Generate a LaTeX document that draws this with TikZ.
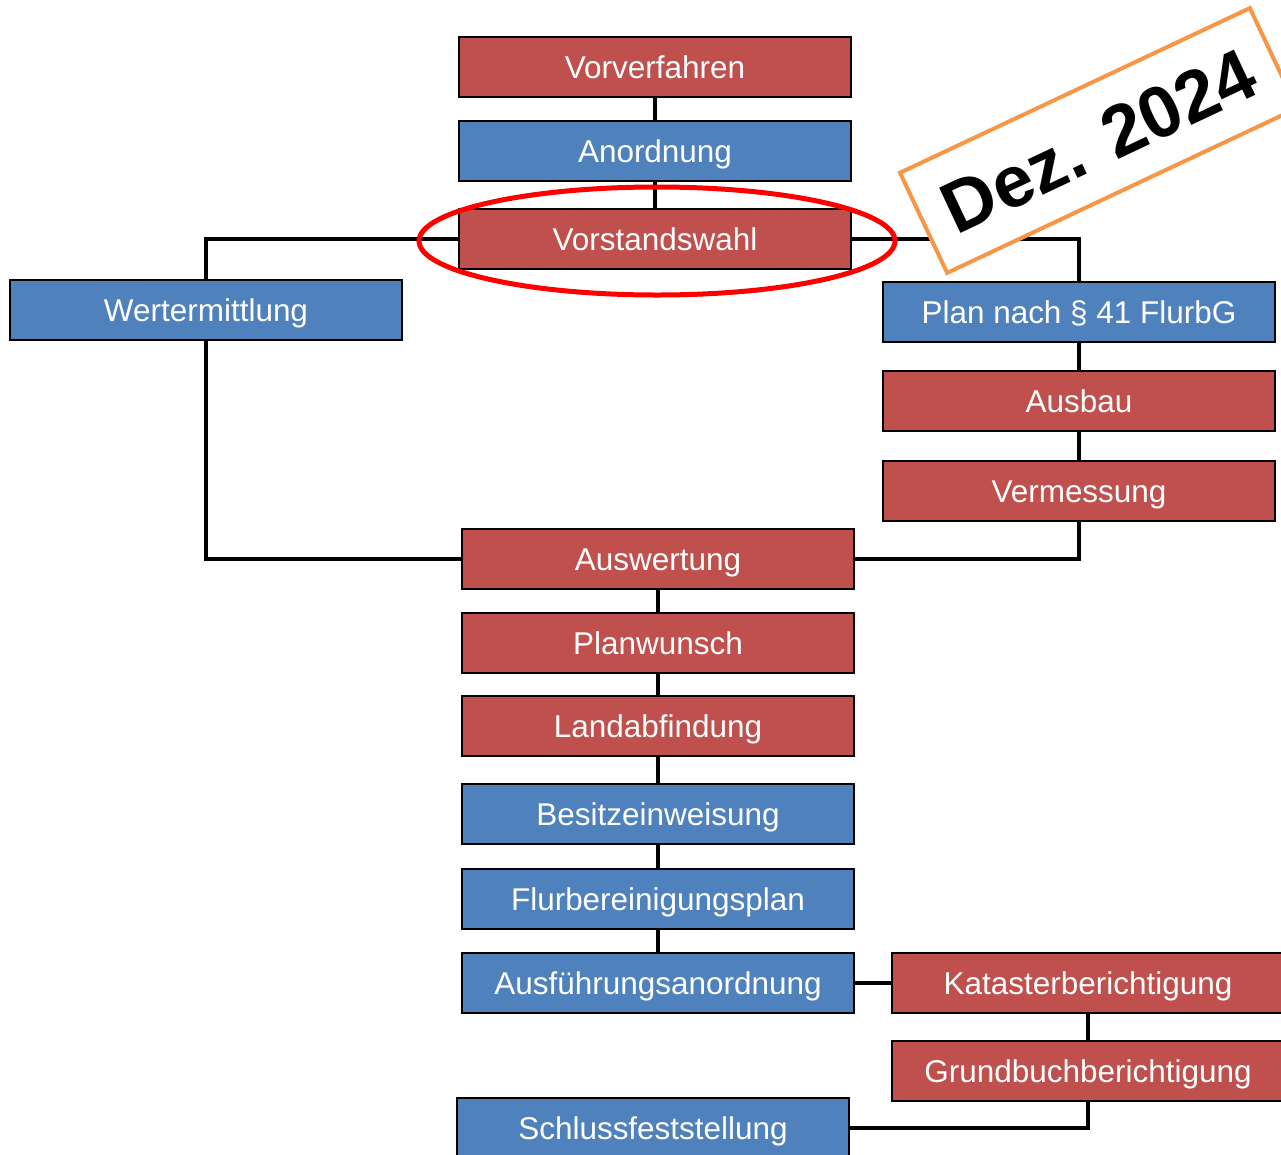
\documentclass[tikz,border=0pt]{standalone}
\usepackage{fontspec}
\setmainfont{Liberation Sans}
\definecolor{boxred}{HTML}{C0504D}
\definecolor{boxblue}{HTML}{4F81BD}
\definecolor{stamporange}{HTML}{F79646}
\begin{document}
\begin{tikzpicture}[x=0.75pt, y=-0.75pt, line join=miter,
	box/.style={draw=black, line width=1.5pt, minimum width=294pt, minimum height=45pt,
		inner sep=0pt, text=white, text height=16.9pt, text depth=0pt,
		font=\fontsize{23.6}{28}\selectfont},
	redbox/.style={box, fill=boxred},
	bluebox/.style={box, fill=boxblue},
	link/.style={line width=3.5pt}]
	\clip (0,0) rectangle (1281,1154);
	% upper part
	\node[redbox] (vor) at (655,67) {Vorverfahren};
	\node[bluebox] (anord) at (655,151) {Anordnung};
	\node[redbox] (wahl) at (655,239) {Vorstandswahl};
	\node[bluebox] (wert) at (206,310) {Wertermittlung};
	\node[bluebox] (plan) at (1079,312) {Plan nach § 41 FlurbG};
	\node[redbox] (ausbau) at (1079,401) {Ausbau};
	\node[redbox] (verm) at (1079,491) {Vermessung};
	% lower part
	\node[redbox] (ausw) at (658,559) {Auswertung};
	\node[redbox] (planw) at (658,643) {Planwunsch};
	\node[redbox] (landab) at (658,726) {Landabfindung};
	\node[bluebox] (besitz) at (658,814) {Besitzeinweisung};
	\node[bluebox] (fplan) at (658,899) {Flurbereinigungsplan};
	\node[bluebox] (ausf) at (658,983) {Ausführungsanordnung};
	\node[redbox] (kat) at (1088,983) {Katasterberichtigung};
	\node[redbox] (grund) at (1088,1071) {Grundbuchberichtigung};
	\node[bluebox] (schluss) at (653,1128) {Schlussfeststellung};
	\foreach \p/\q in {vor/anord, anord/wahl, plan/ausbau, ausbau/verm, ausw/planw,
		planw/landab, landab/besitz, besitz/fplan, fplan/ausf, ausf/kat, kat/grund}
		\draw[link] (\p)--(\q);
	\draw[link] (wahl.west) -| (wert.north) (wahl.east) -| (plan.north)
		(wert.south) |- (ausw.west) (verm.south) |- (ausw.east)
		(grund.south) |- (schluss.east);
	% stamp and mark
	\node[rotate=25.2, draw=stamporange, line width=3pt, fill=white, minimum width=290pt,
		minimum height=83pt, inner sep=0pt, text height=39pt, text depth=0pt,
		font=\bfseries\fontsize{54.5}{60}\selectfont] (stamp) at (1098.5,140.5) {Dez. 2024};
	\draw[red, line width=3.75pt] (657,241) ellipse [x radius=178.5pt, y radius=40.5pt];
\end{tikzpicture}
\end{document}
